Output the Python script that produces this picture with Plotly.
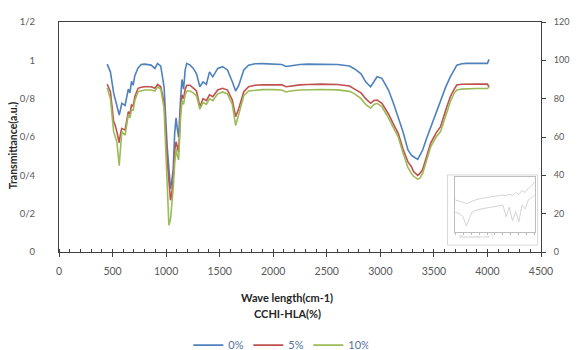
import plotly.graph_objects as go

wavenumber = [450, 480, 510, 525, 540, 562, 575, 586, 617, 647, 662, 677, 692, 708, 738, 768, 800, 860, 895, 920,
              950, 981, 1010, 1026, 1041, 1050, 1066, 1080, 1093, 1105, 1117, 1135, 1148, 1163, 1178, 1193, 1224,
              1254, 1284, 1315, 1345, 1376, 1405, 1436, 1482, 1527, 1573, 1618, 1649, 1679, 1725, 1770, 1830, 1900,
              2000, 2080, 2120, 2160, 2250, 2320, 2450, 2600, 2712, 2760, 2820, 2863, 2909, 2940, 2970, 3015, 3076,
              3120, 3167, 3210, 3258, 3290, 3310, 3349, 3370, 3395, 3430, 3471, 3520, 3562, 3610, 3653, 3690, 3714,
              3760, 3805, 3900, 4000, 4015]

t_0 = [0.98, 0.94, 0.83, 0.80, 0.77, 0.715, 0.745, 0.776, 0.765, 0.85, 0.83, 0.89, 0.87, 0.92, 0.96, 0.978, 0.98,
       0.975, 0.958, 0.984, 0.97, 0.86, 0.55, 0.45, 0.33, 0.36, 0.43, 0.62, 0.70, 0.64, 0.60, 0.80, 0.90, 0.85,
       0.95, 0.984, 0.975, 0.958, 0.93, 0.862, 0.888, 0.875, 0.94, 0.914, 0.958, 0.967, 0.95, 0.888, 0.84, 0.87,
       0.95, 0.975, 0.982, 0.983, 0.98, 0.978, 0.968, 0.972, 0.978, 0.98, 0.98, 0.978, 0.97, 0.955, 0.93, 0.888,
       0.862, 0.89, 0.914, 0.906, 0.845, 0.78, 0.706, 0.63, 0.532, 0.505, 0.497, 0.483, 0.505, 0.532, 0.59, 0.654,
       0.73, 0.793, 0.86, 0.914, 0.955, 0.975, 0.982, 0.984, 0.984, 0.984, 1.005]

t_5 = [0.875, 0.836, 0.68, 0.66, 0.628, 0.57, 0.62, 0.645, 0.636, 0.732, 0.72, 0.767, 0.76, 0.81, 0.854, 0.86,
       0.862, 0.862, 0.854, 0.875, 0.862, 0.78, 0.48, 0.36, 0.27, 0.29, 0.38, 0.52, 0.575, 0.55, 0.52, 0.74, 0.82,
       0.80, 0.85, 0.87, 0.87, 0.855, 0.84, 0.758, 0.80, 0.79, 0.82, 0.81, 0.845, 0.854, 0.845, 0.793, 0.706, 0.75,
       0.836, 0.862, 0.87, 0.873, 0.874, 0.872, 0.862, 0.866, 0.872, 0.874, 0.876, 0.874, 0.866, 0.85, 0.83, 0.80,
       0.776, 0.79, 0.793, 0.776, 0.72, 0.67, 0.619, 0.54, 0.47, 0.445, 0.42, 0.40, 0.41, 0.43, 0.50, 0.57, 0.62,
       0.654, 0.74, 0.81, 0.85, 0.871, 0.875, 0.876, 0.876, 0.876, 0.86]

t_10 = [0.855, 0.80, 0.628, 0.60, 0.575, 0.45, 0.56, 0.628, 0.61, 0.715, 0.70, 0.741, 0.74, 0.79, 0.836, 0.842,
        0.845, 0.845, 0.84, 0.862, 0.85, 0.75, 0.40, 0.14, 0.17, 0.22, 0.33, 0.46, 0.54, 0.50, 0.48, 0.70, 0.79,
        0.77, 0.82, 0.84, 0.84, 0.83, 0.815, 0.745, 0.78, 0.77, 0.80, 0.79, 0.825, 0.835, 0.825, 0.77, 0.66, 0.72,
        0.815, 0.84, 0.845, 0.847, 0.847, 0.845, 0.835, 0.84, 0.845, 0.847, 0.848, 0.846, 0.838, 0.825, 0.80, 0.77,
        0.75, 0.77, 0.776, 0.758, 0.70, 0.65, 0.60, 0.52, 0.44, 0.41, 0.395, 0.38, 0.385, 0.41, 0.47, 0.55, 0.60,
        0.628, 0.71, 0.784, 0.83, 0.845, 0.85, 0.852, 0.853, 0.853, 0.86]

series_names = ["0%", "5%", "10%"]
series_colors = ["#4F81BD", "#C0504D", "#9BBB59"]

y_tickvals = [0, 0.2, 0.4, 0.6, 0.8, 1.0, 1.2]
y_ticktext = ["0", "0/2", "0/4", "0/6", "0/8", "1", "1/2"]
x_tickvals = [0, 500, 1000, 1500, 2000, 2500, 3000, 3500, 4000, 4500]
y2_tickvals = [0, 20, 40, 60, 80, 100, 120]

# small inset spectrum (faint picture in the corner)
inset_x = [0, 5, 10, 14, 18, 22, 30, 40, 50, 60, 64, 68, 72, 76, 80, 84, 88, 92, 96, 100]
inset_upper = [0.62, 0.60, 0.58, 0.55, 0.57, 0.60, 0.64, 0.67, 0.69, 0.71, 0.70, 0.73, 0.70, 0.76, 0.72, 0.80,
               0.76, 0.84, 0.88, 0.96]
inset_lower = [0.38, 0.36, 0.30, 0.12, 0.28, 0.40, 0.44, 0.47, 0.50, 0.52, 0.30, 0.48, 0.22, 0.40, 0.20, 0.52,
               0.45, 0.62, 0.66, 0.72]

FONT = "Lato, 'Open Sans', sans-serif"

fig = go.Figure()
for name, vals, col in zip(series_names, [t_0, t_5, t_10], series_colors):
    fig.add_trace(go.Scatter(x=wavenumber, y=vals, mode="lines", name=name,
                             line=dict(color=col, width=1.6), xaxis="x", yaxis="y"))

# invisible trace to carry the right-hand axis
fig.add_trace(go.Scatter(x=[0], y=[0], yaxis="y2", mode="markers", marker=dict(opacity=0),
                         showlegend=False, hoverinfo="skip"))

for vals in [inset_upper, inset_lower]:
    fig.add_trace(go.Scatter(x=inset_x, y=vals, mode="lines", xaxis="x3", yaxis="y3",
                             line=dict(color="#c9c9c9", width=0.8), showlegend=False, hoverinfo="skip"))

fig.update_layout(
    width=581, height=350,
    margin=dict(l=59, r=28, t=22, b=98),
    paper_bgcolor="white", plot_bgcolor="white",
    font=dict(family=FONT, size=10, color="#595959"),
    showlegend=True,
    legend=dict(orientation="h", x=0.455, xref="paper", y=0.014, yref="container",
                xanchor="center", yanchor="middle",
                font=dict(size=11, color="#52709a"), itemwidth=30, entrywidth=15,
                bgcolor="rgba(0,0,0,0)"),
    xaxis=dict(range=[0, 4500], tickvals=x_tickvals, showgrid=False, zeroline=False,
               showline=True, linecolor="#404040", linewidth=1, mirror=True,
               ticks="outside", ticklen=4, tickcolor="#404040",
               minor=dict(dtick=100, ticks="inside", ticklen=3, tickcolor="#404040"),
               tickfont=dict(size=10.5, color="#595959"), ticklabelstandoff=5),
    yaxis=dict(range=[0, 1.2], tickvals=y_tickvals, ticktext=y_ticktext, showgrid=False, zeroline=False,
               showline=True, linecolor="#404040", linewidth=1, ticks="",
               tickfont=dict(size=9.5, color="#595959"), ticklabelstandoff=21),
    yaxis2=dict(range=[0, 120], tickvals=y2_tickvals, overlaying="y", side="right", showgrid=False,
                zeroline=False, showline=True, linecolor="#404040", linewidth=1,
                ticks="outside", ticklen=4, tickcolor="#404040",
                tickfont=dict(size=9, color="#595959"), ticklabelstandoff=6),
    xaxis3=dict(domain=[0.822, 0.987], anchor="y3", range=[0, 100], showgrid=False, zeroline=False,
                showline=True, linecolor="#bdbdbd", linewidth=0.6, mirror=True, ticks="outside",
                ticklen=1.5, tickcolor="#bdbdbd", dtick=10, showticklabels=False),
    yaxis3=dict(domain=[0.085, 0.325], anchor="x3", range=[0, 1.05], showgrid=False, zeroline=False,
                showline=True, linecolor="#bdbdbd", linewidth=0.6, mirror=True, showticklabels=False),
    shapes=[dict(type="rect", xref="paper", yref="paper", x0=0.806, x1=0.993, y0=0.03, y1=0.335,
                 line=dict(color="#cfcfcf", width=0.8), fillcolor="rgba(255,255,255,0)")],
    annotations=[
        dict(text="<b>Wave length(cm-1)</b>", xref="paper", yref="paper", x=0.474, y=-0.196,
             showarrow=False, font=dict(size=11, color="#262626"), xanchor="center", yanchor="middle"),
        dict(text="<b>CCHI-HLA(%)</b>", xref="paper", yref="paper", x=0.474, y=-0.268,
             showarrow=False, font=dict(size=11, color="#262626"), xanchor="center", yanchor="middle"),
        dict(text="<b>Transmittance(a.u.)</b>", xref="paper", yref="paper", x=-0.095, y=0.465,
             textangle=-90, showarrow=False, font=dict(size=10.5, color="#262626"),
             xanchor="center", yanchor="middle"),
        dict(text="Wavenumber (cm<sup>-1</sup>)", xref="paper", yref="paper", x=0.905, y=0.05,
             showarrow=False, font=dict(size=4, color="#c4c4c4")),
    ],
)

fig.write_html("out.html")
